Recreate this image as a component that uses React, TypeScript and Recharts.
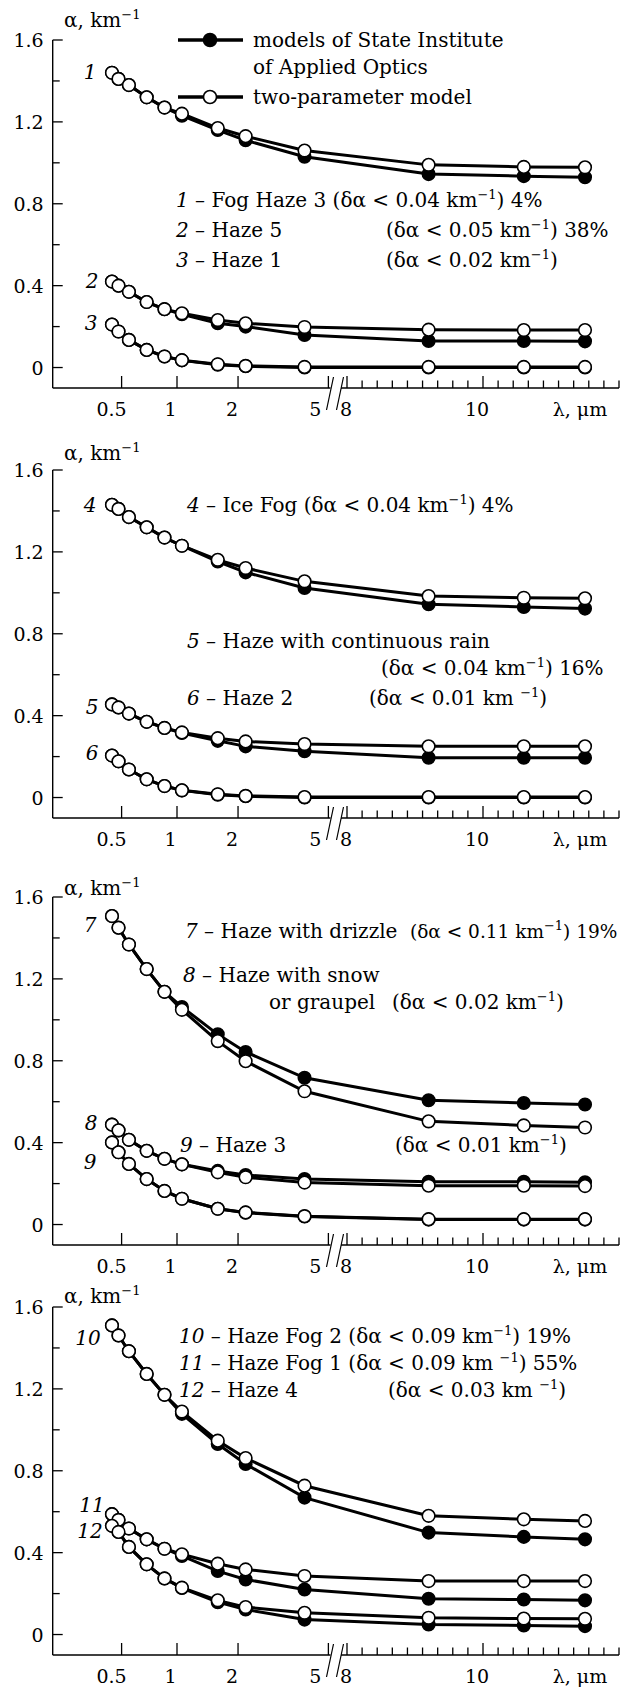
import React from 'react';
import { LineChart, Line, XAxis, YAxis, ReferenceLine } from 'recharts';

// ---------------- data ----------------
const wavelengths = [0.44, 0.48, 0.55, 0.69, 0.86, 1.06, 1.6, 2.17, 3.97, 9.2, 10.6, 11.5];

// panel 1
const fogHaze3Siao = [1.44, 1.41, 1.38, 1.32, 1.27, 1.23, 1.16, 1.11, 1.03, 0.945, 0.935, 0.93];
const fogHaze3Two = [1.44, 1.41, 1.38, 1.32, 1.27, 1.24, 1.17, 1.13, 1.06, 0.99, 0.98, 0.978];
const haze5Siao = [0.42, 0.40, 0.37, 0.32, 0.285, 0.26, 0.216, 0.2, 0.159, 0.13, 0.13, 0.128];
const haze5Two = [0.42, 0.40, 0.37, 0.32, 0.285, 0.265, 0.232, 0.216, 0.198, 0.185, 0.183, 0.183];
const haze1Siao = [0.21, 0.176, 0.135, 0.086, 0.054, 0.035, 0.014, 0.006, 0.0, 0.0, 0.0, 0.0];
const haze1Two = [0.21, 0.176, 0.135, 0.086, 0.054, 0.036, 0.016, 0.008, 0.003, 0.003, 0.003, 0.003];

// panel 2
const iceFogSiao = [1.43, 1.41, 1.37, 1.32, 1.27, 1.23, 1.153, 1.10, 1.024, 0.944, 0.931, 0.923];
const iceFogTwo = [1.43, 1.41, 1.37, 1.32, 1.27, 1.23, 1.161, 1.121, 1.056, 0.984, 0.976, 0.973];
const hazeRainSiao = [0.455, 0.44, 0.41, 0.37, 0.34, 0.315, 0.277, 0.25, 0.226, 0.194, 0.194, 0.194];
const hazeRainTwo = [0.455, 0.44, 0.41, 0.37, 0.34, 0.318, 0.29, 0.274, 0.261, 0.25, 0.25, 0.25];
const haze2Siao = [0.205, 0.177, 0.137, 0.089, 0.056, 0.035, 0.014, 0.006, 0.0, 0.0, 0.0, 0.0];
const haze2Two = [0.205, 0.177, 0.137, 0.089, 0.056, 0.035, 0.016, 0.008, 0.002, 0.002, 0.002, 0.002];

// panel 3
const drizzleSiao = [1.507, 1.45, 1.368, 1.248, 1.137, 1.063, 0.929, 0.843, 0.717, 0.607, 0.594, 0.586];
const drizzleTwo = [1.507, 1.45, 1.368, 1.248, 1.137, 1.049, 0.896, 0.798, 0.651, 0.504, 0.484, 0.474];
const snowSiao = [0.488, 0.46, 0.414, 0.36, 0.321, 0.294, 0.262, 0.242, 0.222, 0.209, 0.209, 0.206];
const snowTwo = [0.488, 0.46, 0.414, 0.36, 0.321, 0.294, 0.255, 0.231, 0.205, 0.19, 0.19, 0.188];
const haze3Siao = [0.401, 0.353, 0.296, 0.222, 0.164, 0.126, 0.077, 0.058, 0.039, 0.024, 0.024, 0.024];
const haze3Two = [0.401, 0.353, 0.296, 0.222, 0.164, 0.126, 0.077, 0.059, 0.041, 0.026, 0.026, 0.026];

// panel 4
const hazeFog2Siao = [1.51, 1.461, 1.384, 1.273, 1.171, 1.078, 0.931, 0.833, 0.669, 0.498, 0.477, 0.465];
const hazeFog2Two = [1.51, 1.461, 1.384, 1.273, 1.171, 1.089, 0.947, 0.862, 0.727, 0.58, 0.563, 0.555];
const hazeFog1Siao = [0.588, 0.56, 0.518, 0.465, 0.419, 0.384, 0.31, 0.269, 0.22, 0.175, 0.171, 0.167];
const hazeFog1Two = [0.588, 0.56, 0.518, 0.465, 0.419, 0.392, 0.346, 0.318, 0.286, 0.261, 0.261, 0.261];
const haze4Siao = [0.531, 0.501, 0.428, 0.343, 0.274, 0.227, 0.158, 0.122, 0.073, 0.049, 0.044, 0.041];
const haze4Two = [0.531, 0.501, 0.428, 0.343, 0.274, 0.229, 0.167, 0.134, 0.106, 0.082, 0.078, 0.077];

// ticks
const yTickValues = [0, 0.2, 0.4, 0.6, 0.8, 1.0, 1.2, 1.4, 1.6];
const yTickLabels = ['0', '', '0.4', '', '0.8', '', '1.2', '', '1.6'];
const xMajorValues = [0.5, 1, 2, 5, 8, 10];
const xMajorLabels = ['0.5', '1', '2', '5', '8', '10'];
const xLabelShift = [-10, -6.5, -6, -13, -1, -6];
const xMinorCount = 18; // minor divisions between 8 and 12 um

// ---------------- layout / scale ----------------
const FONT = "'DejaVu Serif', 'Liberation Serif', serif";
const W = 629;
const CH = 430;
const MT = 40;
const XAH = 42;
const PLOT_H = CH - MT - XAH; // 348
const AXIS_X = 52.7;
const Y_MIN = -0.1;
const Y_MAX = 1.6;

// broken wavelength axis: compressed (power) scale up to 5 um, linear from 8 um
const P_EXP = 0.14;
const P_K = 599;
const P_ANCHOR = 177;
const LIN_START = 347;
const LIN_K = 68;
function xPos(l: number): number {
  if (l <= 5) return P_ANCHOR + (Math.pow(l, P_EXP) - 1) * P_K;
  return LIN_START + (l - 8) * LIN_K;
}
const X_END = xPos(12);

const minorTicks: number[] = [];
for (let k = 1; k <= xMinorCount; k++) {
  const v = 8 + (k * 4) / xMinorCount;
  if (Math.abs(v - 10) > 1e-6) minorTicks.push(xPos(v));
}
const xTicks = [...xMajorValues.map(xPos), ...minorTicks].sort((a, b) => a - b);

const pxToY = (px: number) => px / (PLOT_H / (Y_MAX - Y_MIN));

function buildRows(pairs: number[][][]) {
  return wavelengths.map((l, i) => {
    const row: Record<string, number> = { x: xPos(l) };
    pairs.forEach((p, j) => {
      row['s' + j] = p[0][i];
      row['t' + j] = p[1][i];
    });
    return row;
  });
}

const XTick = (props: any) => {
  const { x, y, payload } = props;
  const idx = xMajorValues.findIndex((v) => Math.abs(xPos(v) - payload.value) < 0.01);
  const major = idx >= 0;
  return (
    <g>
      <line x1={x} x2={x} y1={y} y2={y - (major ? 12 : 7.5)} stroke="#000" strokeWidth={1.3} />
      {major && (
        <text x={x + xLabelShift[idx]} y={y + 28} textAnchor="middle" fontFamily={FONT} fontSize={19} fill="#000">
          {xMajorLabels[idx]}
        </text>
      )}
    </g>
  );
};

const YTick = (props: any) => {
  const { x, y, payload } = props;
  const idx = yTickValues.findIndex((v) => Math.abs(v - payload.value) < 1e-6);
  const lab = idx >= 0 ? yTickLabels[idx] : '';
  return (
    <g>
      <line x1={x} x2={x + (lab ? 10 : 7)} y1={y} y2={y} stroke="#000" strokeWidth={1.3} />
      {lab && (
        <text x={x - 9} y={y + 7} textAnchor="end" fontFamily={FONT} fontSize={19} fill="#000">
          {lab}
        </text>
      )}
    </g>
  );
};

function Panel({ top, pairs }: { top: number; pairs: number[][][] }) {
  const rows = buildRows(pairs);
  const axisSeg = (a: number, b: number) => [
    { x: a, y: Y_MIN },
    { x: b, y: Y_MIN },
  ];
  return (
    <div style={{ position: 'absolute', left: 0, top, width: W, height: CH }}>
      <LineChart width={W} height={CH} data={rows} margin={{ top: MT, right: W - X_END, bottom: 0, left: 0 }}>
        <XAxis
          type="number"
          dataKey="x"
          domain={[AXIS_X, X_END]}
          ticks={xTicks}
          tick={XTick}
          tickLine={false}
          axisLine={false}
          tickSize={0}
          tickMargin={0}
          height={XAH}
          interval={0}
          allowDataOverflow
        />
        <YAxis
          type="number"
          domain={[Y_MIN, Y_MAX]}
          ticks={yTickValues}
          tick={YTick}
          tickLine={false}
          tickSize={0}
          tickMargin={0}
          width={AXIS_X}
          interval={0}
          axisLine={{ stroke: '#000', strokeWidth: 1.4 }}
          allowDataOverflow
        />
        <ReferenceLine segment={axisSeg(AXIS_X, 330.5)} stroke="#000" strokeWidth={1.4} ifOverflow="visible" />
        <ReferenceLine segment={axisSeg(341, X_END)} stroke="#000" strokeWidth={1.4} ifOverflow="visible" />
        <ReferenceLine
          segment={[
            { x: 326.5, y: Y_MIN - pxToY(22) },
            { x: 333.5, y: Y_MIN + pxToY(11) },
          ]}
          stroke="#000"
          strokeWidth={1.2}
          ifOverflow="visible"
        />
        <ReferenceLine
          segment={[
            { x: 336.5, y: Y_MIN - pxToY(22) },
            { x: 343.5, y: Y_MIN + pxToY(11) },
          ]}
          stroke="#000"
          strokeWidth={1.2}
          ifOverflow="visible"
        />
        {pairs.map((_, j) => (
          <Line
            key={'s' + j}
            type="linear"
            dataKey={'s' + j}
            stroke="#000"
            strokeWidth={3}
            dot={{ r: 6.3, fill: '#000', stroke: '#000', strokeWidth: 1.5 }}
            activeDot={false}
            isAnimationActive={false}
          />
        ))}
        {pairs.map((_, j) => (
          <Line
            key={'t' + j}
            type="linear"
            dataKey={'t' + j}
            stroke="#000"
            strokeWidth={3}
            dot={{ r: 6.3, fill: '#fff', stroke: '#000', strokeWidth: 1.6 }}
            activeDot={false}
            isAnimationActive={false}
          />
        ))}
      </LineChart>
    </div>
  );
}

// text helpers
const T = (props: any) => (
  <text fontFamily={FONT} fontSize={20} fill="#000" xmlSpace="preserve" style={{ whiteSpace: 'pre' }} {...props} />
);
function Delta({
  x,
  y,
  v,
  tail,
  gap,
  size = 20,
}: {
  x: number;
  y: number;
  v: string;
  tail: string;
  gap?: boolean;
  size?: number;
}) {
  return (
    <T x={x} y={y} fontSize={size}>
      {'(δα < ' + v + ' km' + (gap ? ' ' : '')}
      <tspan dy={-8} fontSize={13}>
        −1
      </tspan>
      <tspan dy={8}>{')' + tail}</tspan>
    </T>
  );
}
function Num({ x, y, n }: { x: number; y: number; n: string }) {
  return (
    <T x={x} y={y} textAnchor="middle" fontStyle="italic">
      {n}
    </T>
  );
}
function AlphaLabel({ y }: { y: number }) {
  return (
    <T x={64} y={y}>
      {'α, km'}
      <tspan dy={-8} fontSize={13}>
        −1
      </tspan>
    </T>
  );
}
function XLabel({ y }: { y: number }) {
  return (
    <T x={580} y={y} textAnchor="middle" fontSize={19}>
      λ, μm
    </T>
  );
}
function LegendSym({ y, filled }: { y: number; filled: boolean }) {
  return (
    <g>
      <line x1={178} x2={243} y1={y} y2={y} stroke="#000" strokeWidth={3.5} />
      <circle cx={210} cy={y} r={6.5} fill={filled ? '#000' : '#fff'} stroke="#000" strokeWidth={1.6} />
    </g>
  );
}

const PANEL_TOPS = [0, 430, 857, 1267];

export default function App() {
  const axisY = PANEL_TOPS.map((t) => t + MT + PLOT_H);
  return (
    <div style={{ position: 'absolute', left: 0, top: 0, width: W, height: 1689, background: '#fff', overflow: 'hidden' }}>
      <Panel top={PANEL_TOPS[0]} pairs={[[fogHaze3Siao, fogHaze3Two], [haze5Siao, haze5Two], [haze1Siao, haze1Two]]} />
      <Panel top={PANEL_TOPS[1]} pairs={[[iceFogSiao, iceFogTwo], [hazeRainSiao, hazeRainTwo], [haze2Siao, haze2Two]]} />
      <Panel top={PANEL_TOPS[2]} pairs={[[drizzleSiao, drizzleTwo], [snowSiao, snowTwo], [haze3Siao, haze3Two]]} />
      <Panel top={PANEL_TOPS[3]} pairs={[[hazeFog2Siao, hazeFog2Two], [hazeFog1Siao, hazeFog1Two], [haze4Siao, haze4Two]]} />
      <svg
        width={W}
        height={1689}
        style={{ position: 'absolute', left: 0, top: 0, pointerEvents: 'none' }}
      >
        {/* axis labels */}
        <AlphaLabel y={27} />
        <AlphaLabel y={460} />
        <AlphaLabel y={895} />
        <AlphaLabel y={1303} />
        {axisY.map((ay, i) => (
          <XLabel key={i} y={ay + 28} />
        ))}

        {/* legend */}
        <LegendSym y={40} filled />
        <T x={253} y={47}>models of State Institute</T>
        <T x={253} y={74}>of Applied Optics</T>
        <LegendSym y={97} filled={false} />
        <T x={253} y={104}>two-parameter model</T>

        {/* panel 1 */}
        <Num x={90} y={79} n="1" />
        <Num x={92} y={288} n="2" />
        <Num x={91} y={330} n="3" />
        <T x={176} y={206.5}>
          <tspan fontStyle="italic">1</tspan>
          {' – Fog Haze 3 (δα < 0.04 km'}
          <tspan dy={-8} fontSize={13}>
            −1
          </tspan>
          <tspan dy={8}>{') 4%'}</tspan>
        </T>
        <T x={176} y={237}>
          <tspan fontStyle="italic">2</tspan>
          {' – Haze 5'}
        </T>
        <Delta x={386} y={237} v="0.05" tail=" 38%" />
        <T x={176} y={267}>
          <tspan fontStyle="italic">3</tspan>
          {' – Haze 1'}
        </T>
        <Delta x={386} y={267} v="0.02" tail="" />

        {/* panel 2 */}
        <Num x={90} y={512} n="4" />
        <Num x={92} y={714} n="5" />
        <Num x={92} y={760} n="6" />
        <T x={187} y={512}>
          <tspan fontStyle="italic">4</tspan>
          {' – Ice Fog (δα < 0.04 km'}
          <tspan dy={-8} fontSize={13}>
            −1
          </tspan>
          <tspan dy={8}>{') 4%'}</tspan>
        </T>
        <T x={187} y={648}>
          <tspan fontStyle="italic">5</tspan>
          {' – Haze with continuous rain'}
        </T>
        <Delta x={381} y={675} v="0.04" tail=" 16%" />
        <T x={187} y={705}>
          <tspan fontStyle="italic">6</tspan>
          {' – Haze 2'}
        </T>
        <Delta x={369} y={705} v="0.01" tail="" gap />

        {/* panel 3 */}
        <Num x={90} y={932} n="7" />
        <Num x={91} y={1130} n="8" />
        <Num x={90} y={1169} n="9" />
        <T x={185} y={938}>
          <tspan fontStyle="italic">7</tspan>
          {' – Haze with drizzle'}
        </T>
        <Delta x={410} y={938} v="0.11" tail=" 19%" size={18.5} />
        <T x={183} y={982}>
          <tspan fontStyle="italic">8</tspan>
          {' – Haze with snow'}
        </T>
        <T x={269} y={1009}>or graupel</T>
        <Delta x={392} y={1009} v="0.02" tail="" />
        <T x={180} y={1152}>
          <tspan fontStyle="italic">9</tspan>
          {' – Haze 3'}
        </T>
        <Delta x={395} y={1152} v="0.01" tail="" />

        {/* panel 4 */}
        <Num x={88} y={1345} n="10" />
        <Num x={92} y={1512} n="11" />
        <Num x={90} y={1538} n="12" />
        <T x={179} y={1343}>
          <tspan fontStyle="italic">10</tspan>
          {' – Haze Fog 2 (δα < 0.09 km'}
          <tspan dy={-8} fontSize={13}>
            −1
          </tspan>
          <tspan dy={8}>{') 19%'}</tspan>
        </T>
        <T x={179} y={1370}>
          <tspan fontStyle="italic">11</tspan>
          {' – Haze Fog 1 (δα < 0.09 km '}
          <tspan dy={-8} fontSize={13}>
            −1
          </tspan>
          <tspan dy={8}>{') 55%'}</tspan>
        </T>
        <T x={179} y={1397}>
          <tspan fontStyle="italic">12</tspan>
          {' – Haze 4'}
        </T>
        <Delta x={388} y={1397} v="0.03" tail="" gap />
      </svg>
    </div>
  );
}
